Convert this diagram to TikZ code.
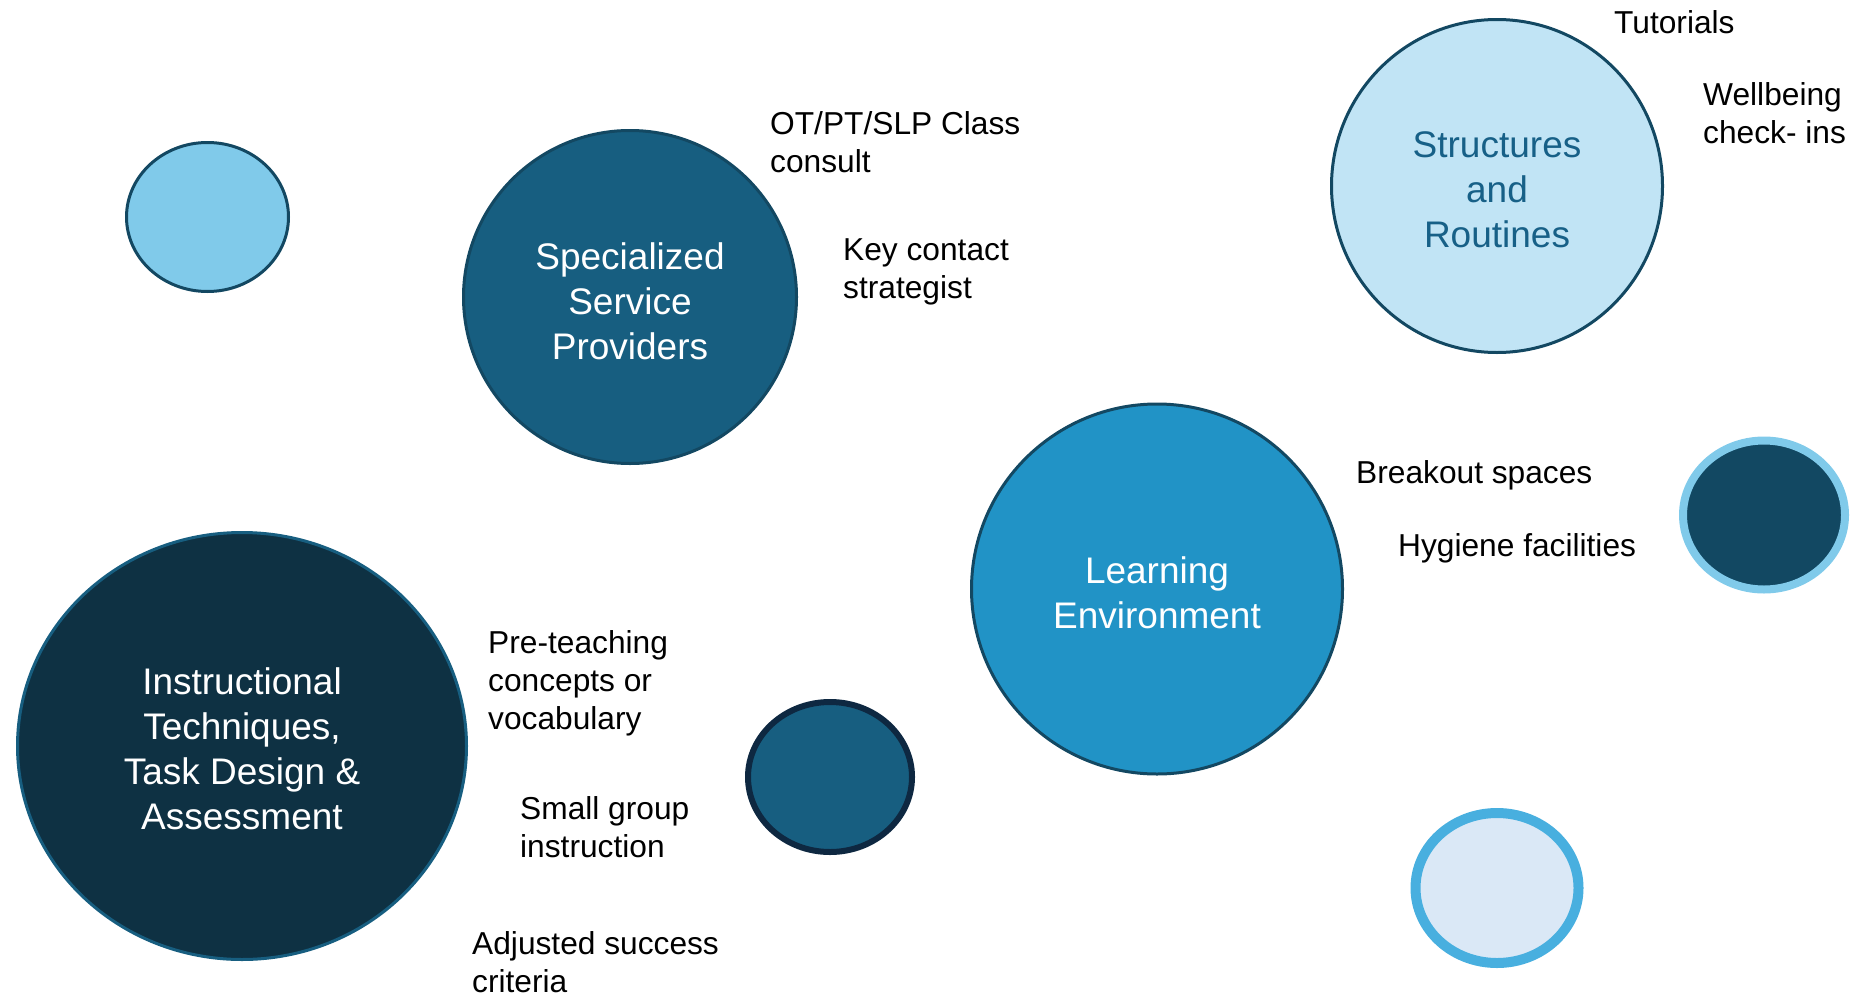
\documentclass[tikz,border=0pt]{standalone}
\usepackage{fontspec}
\setmainfont{Liberation Sans}
\usetikzlibrary{shapes.geometric}
\definecolor{cLight}{HTML}{80CAEA}
\definecolor{cMid}{HTML}{175E80}
\definecolor{cPale}{HTML}{C1E4F5}
\definecolor{cBright}{HTML}{2193C6}
\definecolor{cNavy}{HTML}{0E3143}
\definecolor{cDeep}{HTML}{124862}
\definecolor{cFaint}{HTML}{DAE8F6}
\definecolor{cRing}{HTML}{48AFDF}
\definecolor{cEdge}{HTML}{134862}
\definecolor{cDarkEdge}{HTML}{0E2841}
\definecolor{cPaleText}{HTML}{176087}
\tikzset{
  bub/.style={ellipse, inner sep=0pt, line width=3pt, draw=cEdge},
  ctext/.style={inner sep=0pt, align=center, text=white,
    font=\fontsize{37}{45}\selectfont},
  lbl/.style={anchor=west, inner sep=0pt, align=left,
    font=\fontsize{31.7}{38}\selectfont, text=black}
}
\begin{document}
\begin{tikzpicture}[x=1pt,y=-1pt]
\useasboundingbox (0,0) rectangle (1870,1001);
% circles
\node[bub, fill=cLight, minimum width=162pt, minimum height=149pt] (small) at (207.5,217) {};
\node[bub, fill=cMid, minimum width=333pt, minimum height=333pt] (ssp) at (630,297) {};
\node[bub, fill=cPale, minimum width=331pt, minimum height=333pt] (sr) at (1497,186) {};
\node[bub, fill=cBright, minimum width=371pt, minimum height=370pt] (le) at (1157,589) {};
\node[bub, fill=cNavy, draw=cMid, minimum width=449pt, minimum height=427pt] (it) at (242,746) {};
\node[bub, fill=cDeep, draw=cLight, line width=8pt, minimum width=162pt, minimum height=149pt] (rd) at (1764,515) {};
\node[bub, fill=cFaint, draw=cRing, line width=10pt, minimum width=163pt, minimum height=150pt] (bl) at (1497,888) {};
\node[bub, fill=cMid, draw=cDarkEdge, line width=6pt, minimum width=164pt, minimum height=150pt] (md) at (830,777) {};
% circle texts
\node[ctext] (ssp-t) at ([yshift=-4pt]ssp.center) {Specialized\\Service\\Providers};
\node[ctext, text=cPaleText] (sr-t) at ([yshift=-4pt]sr.center) {Structures\\and\\Routines};
\node[ctext] (le-t) at ([yshift=-4pt]le.center) {Learning\\Environment};
\node[ctext] (it-t) at ([yshift=-3pt]it.center) {Instructional\\Techniques,\\Task Design \&\\Assessment};
% labels
\node[lbl] (t1) at (770,142) {OT/PT/SLP Class\\consult};
\node[lbl] (t2) at (843,272) {Key contact\\strategist};
\node[lbl] (t3) at (1614,22) {Tutorials};
\node[lbl] (t4) at (1703,113.5) {Wellbeing\\check- ins};
\node[lbl] (t5) at (1356,475) {Breakout spaces};
\node[lbl] (t6) at (1398,548) {Hygiene facilities};
\node[lbl] (t7) at (488,683) {Pre-teaching\\concepts or\\vocabulary};
\node[lbl] (t8) at (520,827) {Small group\\instruction};
\node[lbl] (t9) at (472,962) {Adjusted success\\criteria};
\end{tikzpicture}
\end{document}
